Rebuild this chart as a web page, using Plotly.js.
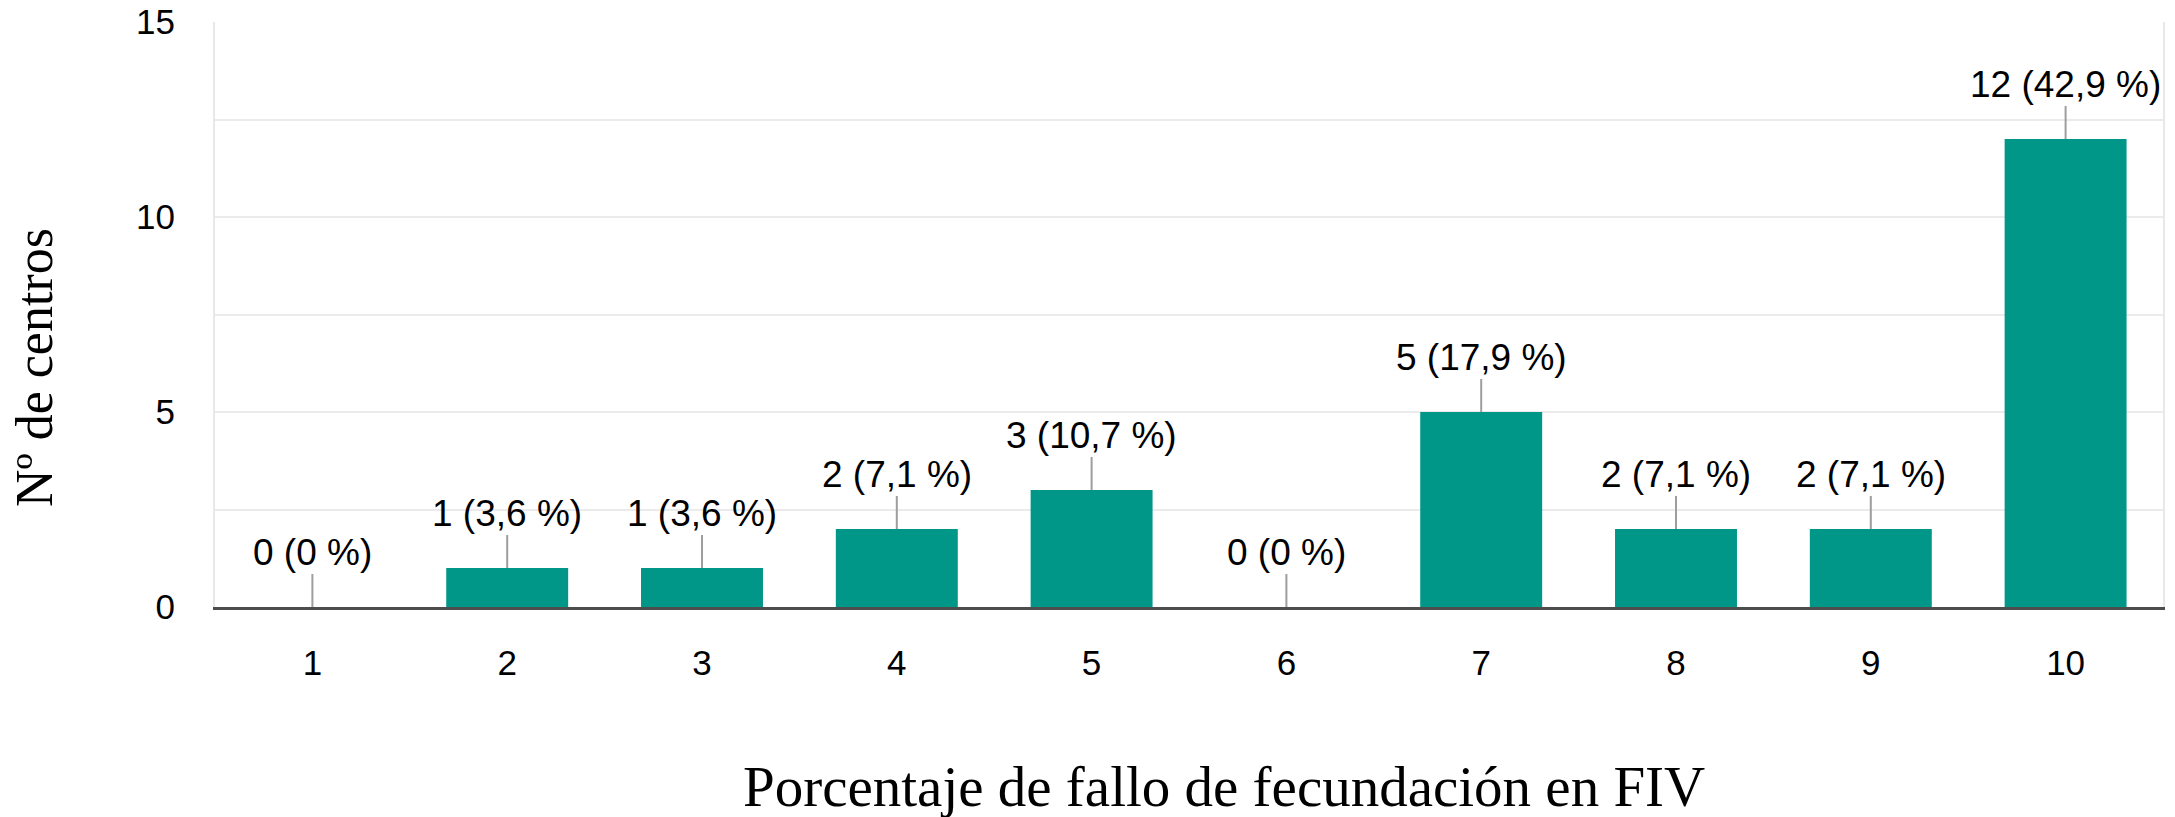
<!DOCTYPE html>
<html>
<head>
<meta charset="utf-8">
<script src="https://cdn.plot.ly/plotly-3.0.1.min.js"></script>
<style>html,body{margin:0;padding:0;background:#fff;}#chart{width:2175px;height:817px;}</style>
</head>
<body>
<div id="chart"></div>
<script>
// Data
const categories = ["1", "2", "3", "4", "5", "6", "7", "8", "9", "10"];
const centros = [0, 1, 1, 2, 3, 0, 5, 2, 2, 12];
const porcentajes = ["0", "3,6", "3,6", "7,1", "10,7", "0", "17,9", "7,1", "7,1", "42,9"];
const yTickVals = [0, 5, 10, 15];
const xTitle = "Porcentaje de fallo de fecundación en FIV";
const yTitle = "Nº de centros";

const barColor = "#009688";
const sans = "Liberation Sans, Arial, sans-serif";
const serif = "Liberation Serif, Times New Roman, serif";

const trace = {
  type: "bar",
  x: categories,
  y: centros,
  marker: { color: barColor, line: { width: 0 } },
  hoverinfo: "skip"
};

// value labels with leader lines (x given as category index)
const annotations = categories.map((c, i) => ({
  x: i,
  y: centros[i],
  xref: "x",
  yref: "y",
  text: centros[i] + " (" + porcentajes[i] + " %)",
  showarrow: true,
  arrowhead: 0,
  arrowwidth: 2,
  arrowcolor: "#9e9e9e",
  ax: 0,
  ay: -55,
  standoff: 0,
  font: { family: sans, size: 37, color: "#000" }
}));

// axis titles
annotations.push({
  text: xTitle, xref: "paper", yref: "paper", x: 0.518, y: -0.306,
  xanchor: "center", yanchor: "middle", showarrow: false,
  font: { family: serif, size: 57, color: "#000" }
});
annotations.push({
  text: yTitle, xref: "paper", yref: "paper", x: -0.093, y: 0.41,
  xanchor: "center", yanchor: "middle", showarrow: false, textangle: -90,
  font: { family: serif, size: 52, color: "#000" }
});

const layout = {
  width: 2175,
  height: 817,
  margin: { l: 215, r: 12, t: 22, b: 210, pad: 0 },
  paper_bgcolor: "#fff",
  plot_bgcolor: "#fff",
  showlegend: false,
  bargap: 0.374,
  xaxis: {
    type: "category",
    range: [-0.5, 9.5],
    showgrid: false,
    zeroline: false,
    showline: true,
    linecolor: "#4d4d4d",
    linewidth: 3,
    ticks: "",
    ticklabelstandoff: 23,
    tickfont: { family: sans, size: 35, color: "#000" },
    automargin: false
  },
  yaxis: {
    range: [0, 15],
    tickvals: yTickVals,
    showgrid: true,
    gridcolor: "#ebebeb",
    gridwidth: 2,
    minor: { dtick: 2.5, tick0: 0, showgrid: true, gridcolor: "#ebebeb", gridwidth: 2 },
    zeroline: false,
    showline: true,
    mirror: true,
    linecolor: "#e8e8e8",
    linewidth: 2,
    ticks: "",
    ticklabelstandoff: 31,
    tickfont: { family: sans, size: 35, color: "#000" },
    automargin: false
  },
  annotations: annotations
};

Plotly.newPlot("chart", [trace], layout, { staticPlot: true, displayModeBar: false });
</script>
</body>
</html>
